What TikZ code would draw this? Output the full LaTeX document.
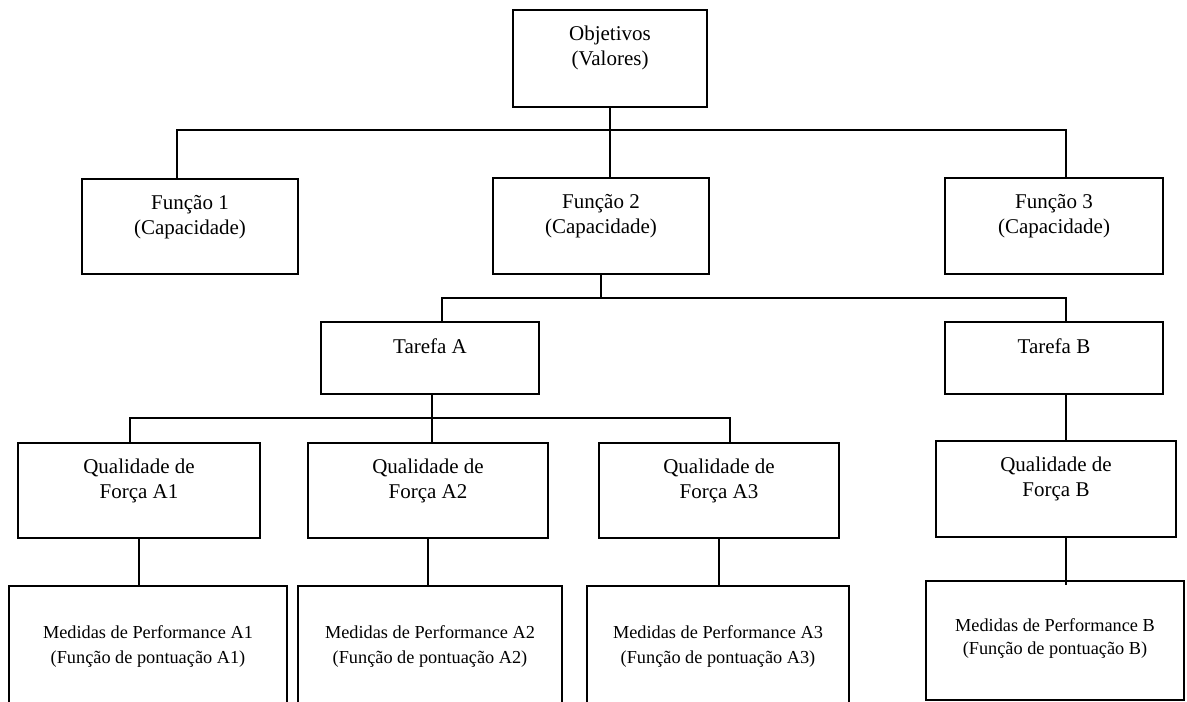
\documentclass[tikz,border=0pt]{standalone}
\usepackage{fontspec}
\setmainfont{Liberation Serif}
\usetikzlibrary{calc}

% text sizes for the two kinds of boxes
\newcommand\mainsize{\fontsize{21pt}{25pt}\selectfont}
\newcommand\smallsize{\fontsize{18.3pt}{25pt}\selectfont}
% box body: width, height, first baseline below the top edge, text
\newcommand\boxbody[4]{\parbox[c][#2][t]{#1}{\centering\rule{0pt}{#3}#4}}

\begin{document}
\begin{tikzpicture}[x=1pt, y=-1pt,
  box/.style={draw=black, line width=2.1pt, inner sep=0pt, fill=white, font=\mainsize},
  mbox/.style={box, font=\smallsize},
  link/.style={draw=black, line width=2.1pt}]

\useasboundingbox (0,0) rectangle (1187,702);
\fill[white] (0,0) rectangle (1187,702);
\clip (0,0) rectangle (1187,702);

% ---- level 0 ----
\node[box] (obj) at (610,58.5) {\boxbody{194pt}{97pt}{30pt}{Objetivos\\(Valores)}};

% ---- functions ----
\node[box] (f1) at (190,226.5) {\boxbody{216pt}{95pt}{30pt}{Função 1\\(Capacidade)}};
\node[box] (f2) at (601,226) {\boxbody{216pt}{96pt}{30pt}{Função 2\\(Capacidade)}};
\node[box] (f3) at (1054,226) {\boxbody{218pt}{96pt}{30pt}{Função 3\\(Capacidade)}};

% ---- tasks ----
\node[box] (ta) at (430,358) {\boxbody{218pt}{72pt}{31pt}{Tarefa A}};
\node[box] (tb) at (1054,358) {\boxbody{218pt}{72pt}{31pt}{Tarefa B}};

% ---- force qualities ----
\node[box] (qa1) at (139,490.5) {\boxbody{242pt}{95pt}{30pt}{Qualidade de\\Força A1}};
\node[box] (qa2) at (428,490.5) {\boxbody{240pt}{95pt}{30pt}{Qualidade de\\Força A2}};
\node[box] (qa3) at (719,490.5) {\boxbody{240pt}{95pt}{30pt}{Qualidade de\\Força A3}};
\node[box] (qb) at (1056,489) {\boxbody{240pt}{96pt}{30pt}{Qualidade de\\Força B}};

% ---- performance measures (the A boxes run past the lower edge) ----
\node[mbox] (ma1) at (148,658) {\boxbody{278pt}{144pt}{52pt}{Medidas de Performance A1\\(Função de pontuação A1)}};
\node[mbox] (ma2) at (430,658) {\boxbody{264pt}{144pt}{52pt}{Medidas de Performance A2\\(Função de pontuação A2)}};
\node[mbox] (ma3) at (718,658) {\boxbody{262pt}{144pt}{52pt}{Medidas de Performance A3\\(Função de pontuação A3)}};
\node[mbox] (mb) at (1055,640.5) {\boxbody{258pt}{119pt}{50pt}{Medidas de Performance B\\[-2pt](Função de pontuação B)}};

% ---- bus lines ----
\coordinate (bus1L) at (177,130);
\coordinate (bus1R) at (1066,130);
\coordinate (bus2L) at (442,298);
\coordinate (bus2R) at (1066,298);
\coordinate (bus3L) at (130,418);
\coordinate (bus3M) at (432,418);
\coordinate (bus3R) at (730,418);

% objectives to functions
\draw[link] (obj.south) -- (obj.south |- f2.north);
\draw[link] (bus1L |- f1.north) -- (bus1L) -- (bus1R) -- (bus1R |- f3.north);

% function 2 to tasks
\draw[link] (f2.south) -- (f2.south |- bus2L);
\draw[link] (bus2L |- ta.north) -- (bus2L) -- (bus2R) -- (bus2R |- tb.north);

% task A to its qualities
\draw[link] (ta.south -| bus3M) -- (bus3M |- qa2.north);
\draw[link] (bus3L |- qa1.north) -- (bus3L) -- (bus3R) -- (bus3R |- qa3.north);

% task B to its quality
\draw[link] (tb.south -| bus2R) -- (bus2R |- qb.north);

% qualities to measures
\draw[link] (qa1.south) -- (qa1.south |- ma1.north);
\draw[link] (qa2.south) -- (qa2.south |- ma2.north);
\draw[link] (qa3.south) -- (qa3.south |- ma3.north);
\draw[link] (qb.south -| bus2R) -- ([yshift=-5pt]mb.north -| bus2R);
\end{tikzpicture}
\end{document}
